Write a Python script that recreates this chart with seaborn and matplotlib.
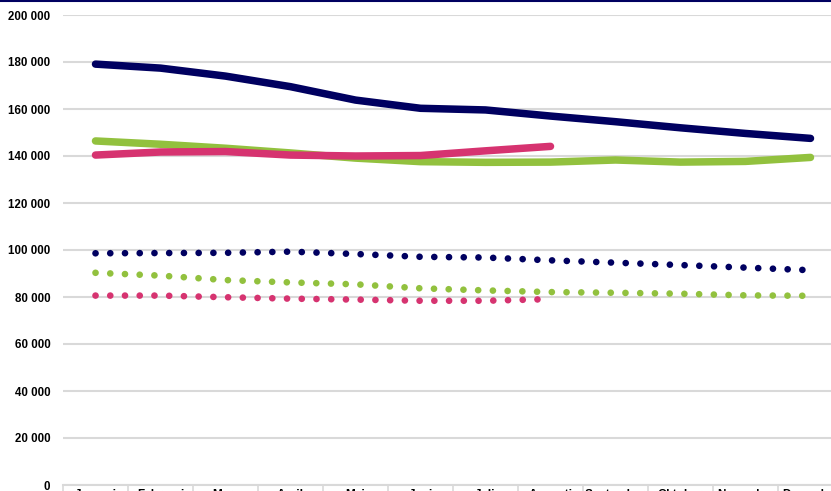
import numpy as np
import pandas as pd
import matplotlib
matplotlib.use("Agg")
import matplotlib.pyplot as plt
import seaborn as sns
from matplotlib.ticker import FuncFormatter, FixedLocator

months = ["Januari", "Februari", "Mars", "April", "Maj", "Juni", "Juli",
          "Augusti", "September", "Oktober", "November", "December"]

# solid lines
navy_solid = [179100, 177400, 174000, 169500, 163800, 160300, 159600, 157000,
              154600, 152000, 149600, 147500]
green_solid = [146400, 145000, 143300, 141300, 139100, 137600, 137300, 137400,
               138300, 137400, 137700, 139400]
pink_solid = [140400, 141700, 141900, 140400, 140000, 140200, 142200, 144100]

# dotted lines
navy_dot = [98600, 98700, 98800, 99300, 98300, 97100, 96800, 95600,
            94600, 93600, 92500, 91400]
green_dot = [90300, 89100, 87200, 86200, 85400, 83700, 82800, 82100,
             81800, 81400, 80700, 80500]
pink_dot = [80600, 80600, 79900, 79300, 78900, 78400, 78400, 79100]

NAVY = "#000060"
GREEN = "#92c13e"
PINK = "#d63370"

sns.set_theme(style="white")
plt.rcParams["font.family"] = ["Liberation Sans", "DejaVu Sans"]

fig = plt.figure(figsize=(8.31, 4.91), dpi=100)
W, H = 831, 491
ax = fig.add_axes([63 / W, 6 / H, (843 - 63) / W, (485 - 15) / H])


def draw(values, color, dotted):
    df = pd.DataFrame({"pos": np.arange(len(values)), "value": values})
    if dotted:
        sns.lineplot(data=df, x="pos", y="value", color=color, lw=4.8,
                     linestyle=(0, (0.01, 2.2)), dash_capstyle="round",
                     ax=ax, zorder=3)
    else:
        sns.lineplot(data=df, x="pos", y="value", color=color, lw=5.4,
                     solid_capstyle="round", solid_joinstyle="round",
                     ax=ax, zorder=4)


draw(navy_dot, NAVY, True)
draw(green_dot, GREEN, True)
draw(pink_dot, PINK, True)
draw(green_solid, GREEN, False)
draw(navy_solid, NAVY, False)
draw(pink_solid, PINK, False)

ax.set_xlim(-0.5, 11.5)
ax.set_ylim(0, 200000)
ax.set_yticks(np.arange(0, 200001, 20000))
ax.yaxis.set_major_formatter(FuncFormatter(lambda v, p: f"{int(v):,}".replace(",", " ")))
ax.grid(axis="y", color="#d9d9d9", lw=1.5)
ax.grid(axis="x", visible=False)

ax.set_xticks(np.arange(12))
ax.set_xticklabels(months)
ax.xaxis.set_minor_locator(FixedLocator(np.arange(-0.5, 12, 1)))
ax.tick_params(axis="x", which="both", bottom=True)
ax.tick_params(axis="x", which="major", length=0, pad=3, labelsize=8.5, labelcolor="#000000")
ax.tick_params(axis="x", which="minor", length=12, width=1.2, color="#d9d9d9", direction="out")
ax.tick_params(axis="y", length=0, pad=9, labelsize=8.3, labelcolor="#000000")
for lab in ax.get_xticklabels() + ax.get_yticklabels():
    lab.set_fontweight("bold")

for s in ["top", "right", "left"]:
    ax.spines[s].set_visible(False)
ax.spines["bottom"].set_color("#d9d9d9")
ax.spines["bottom"].set_linewidth(1.5)
ax.set_xlabel("")
ax.set_ylabel("")

# navy rule along the top edge
fig.add_artist(plt.Line2D([0, 1], [1 - 1 / H, 1 - 1 / H], color=NAVY, lw=1.5,
                          transform=fig.transFigure))

fig.savefig("out.png", dpi=100)
